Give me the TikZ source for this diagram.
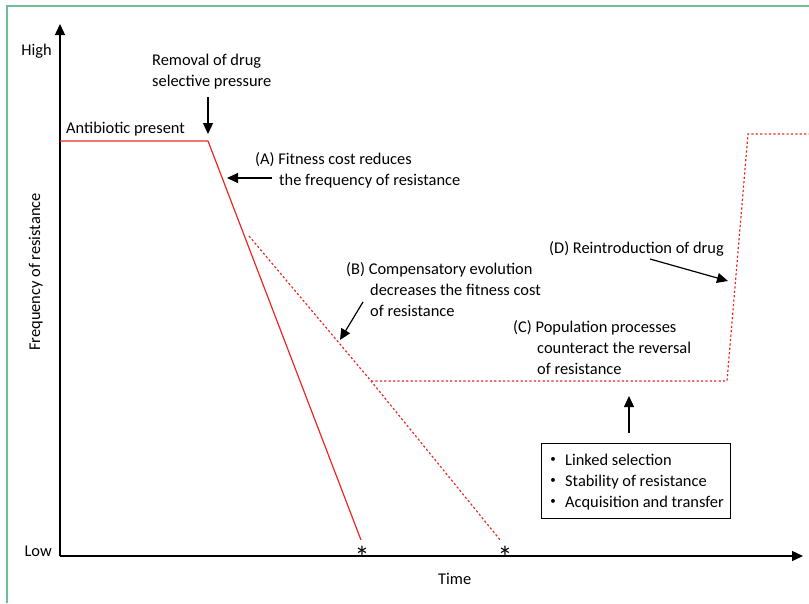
\documentclass[tikz,border=0pt]{standalone}
\usepackage{fontspec}
\setmainfont{Carlito}
\usetikzlibrary{arrows.meta}
\definecolor{framegreen}{RGB}{112,190,150}
\definecolor{curvered}{RGB}{235,40,35}
\tikzset{
    axis/.style={line width=1.4pt, -{Triangle[length=11pt,width=10pt]}},
    pointer/.style={line width=1.2pt, -{Triangle[length=11pt,width=10pt]}},
    label/.style={anchor=base west, inner sep=0pt, font=\fontsize{16.4}{20.6}\selectfont, align=left},
    solidcurve/.style={curvered, line width=1.2pt},
    dotcurve/.style={curvered, line width=1.2pt, dash pattern=on 2.2pt off 2.2pt}
}
\begin{document}
\begin{tikzpicture}[x=1pt, y=-1pt]
    \useasboundingbox (0,0) rectangle (809,603);
    % Frame
    \draw[framegreen, line width=2pt] (7,603) -- (7,6) -- (809,6);

    % Axes
    \coordinate (origin) at (60,556);
    \coordinate (ytip) at (60,24);
    \coordinate (xtip) at (803,556);
    \draw[axis] (origin) -- (ytip);
    \draw[axis] (origin) -- (xtip);
    \node[label, anchor=base east] (high) at (52,55) {High};
    \node[label, anchor=base east] (low) at (52,556) {Low};
    \node[label, anchor=base, rotate=90] (ylab) at (40,272) {Frequency of resistance};
    \node[label] (time) at (438,584) {Time};

    % Curves
    \coordinate (start) at (60,141);
    \coordinate (stop) at (208,141);
    \coordinate (fallA) at (361,540);
    \coordinate (dotB) at (249,236);
    \coordinate (kneeB) at (371,381);
    \coordinate (fallB) at (501,541);
    \coordinate (kneeC) at (727,381);
    \coordinate (riseD) at (748,134);
    \coordinate (endD) at (809,134);
    \draw[solidcurve] (start) -- (stop) -- (fallA);
    \draw[dotcurve] (dotB) -- (kneeB) -- (fallB);
    \draw[dotcurve] (kneeB) -- (kneeC) -- (riseD) -- (endD);
    \node[inner sep=0pt, font=\fontsize{30}{30}\selectfont] (starA) at (362,557) {*};
    \node[inner sep=0pt, font=\fontsize{30}{30}\selectfont] (starB) at (505,557) {*};

    % Labels (base = last line)
    \node[label] (present) at (66,133) {Antibiotic present};
    \node[label] (removal) at (152,86) {Removal of drug\\selective pressure};
    \node[label] (textA) at (255,185) {(A) Fitness cost reduces\\\hspace{24pt}the frequency of resistance};
    \node[label] (textB) at (346,316) {(B) Compensatory evolution\\\hspace{24pt}decreases the fitness cost\\\hspace{24pt}of resistance};
    \node[label] (textC) at (513,374) {(C) Population processes\\\hspace{24pt}counteract the reversal\\\hspace{24pt}of resistance};
    \node[label] (textD) at (549,253) {(D) Reintroduction of drug};

    % Box of processes
    \node[draw, line width=1pt, minimum width=189pt, minimum height=75pt, anchor=north west] (box) at (541,443) {};
    \foreach \item [count=\k] in {Linked selection, Stability of resistance, Acquisition and transfer} {
        \node[inner sep=0pt, font=\fontsize{11}{11}\selectfont] (bullet\k) at (553,439+21*\k) {\textbullet};
        \node[label] (item\k) at (565,444+21*\k) {\item};
    }

    % Pointer arrows
    \coordinate (tailR) at (208,97);
    \coordinate (tipR) at (208,134);
    \coordinate (tailA) at (272,178);
    \coordinate (tipA) at (227,178);
    \coordinate (tailB) at (363,302);
    \coordinate (tipB) at (340,340);
    \coordinate (tailD) at (650,259);
    \coordinate (tipD) at (728,281);
    \coordinate (tipC) at (629,396);
    \draw[pointer] (tailR) -- (tipR);
    \draw[pointer] (tailA) -- (tipA);
    \draw[pointer] (tailB) -- (tipB);
    \draw[pointer] (tailD) -- (tipD);
    \draw[pointer] ([yshift=10pt]box.north -| tipC) -- (tipC);
\end{tikzpicture}
\end{document}
